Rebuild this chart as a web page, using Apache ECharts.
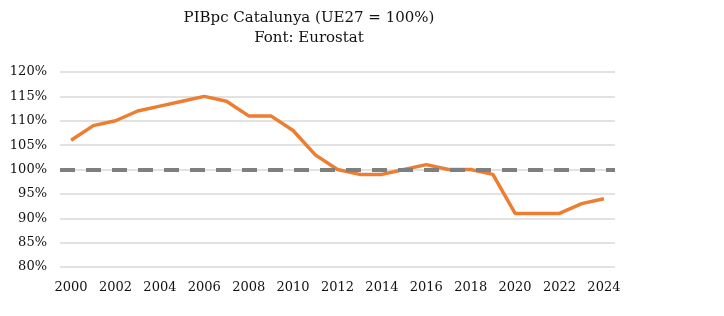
<!DOCTYPE html>
<html><head><meta charset="utf-8">
<script src="https://cdn.jsdelivr.net/npm/echarts@6/dist/echarts.min.js"></script>
<style>html,body{margin:0;padding:0;background:#fff}#c{width:724px;height:316px}</style>
</head><body><div id="c"></div>
<script>
const years = ['2000','2001','2002','2003','2004','2005','2006','2007','2008','2009','2010','2011','2012','2013','2014','2015','2016','2017','2018','2019','2020','2021','2022','2023','2024'];
const pibpc = [106,109,110,112,113,114,115,114,111,111,108,103,100,99,99,100,101,100,100,99,91,91,91,93,94];
const reference = 100;
const yTicks = [80,85,90,95,100,105,110,115,120];
const titleText = 'PIBpc Catalunya (UE27 = 100%)\nFont: Eurostat';

const font = '"DejaVu Serif", "Liberation Serif", serif';
const chart = echarts.init(document.getElementById('c'));
chart.setOption({
  animation: false,
  title: {text: titleText, left: 304, top: 3, textAlign: 'center',
    textStyle: {fontFamily: font, fontSize: 15, fontWeight: 'normal', color: '#111', lineHeight: 20}},
  grid: {left: 60, right: 109, top: 72, bottom: 49},
  xAxis: {type: 'category', data: years, boundaryGap: true,
    axisLine: {show: false}, axisTick: {show: false},
    axisLabel: {interval: 1, fontFamily: font, fontSize: 13, color: '#111', margin: 14}},
  yAxis: {type: 'value', min: yTicks[0], max: yTicks[yTicks.length-1], interval: 5,
    axisLine: {show: false}, axisTick: {show: false},
    splitLine: {lineStyle: {color: '#d9d9d9', width: 1.5}},
    axisLabel: {formatter: '{value}%', fontFamily: font, fontSize: 13, color: '#111', margin: 13}},
  series: [{
    type: 'line', data: pibpc, symbol: 'none',
    lineStyle: {color: '#ED7D31', width: 3.5}, z: 3
  }, {
    type: 'line', data: [], z: 5,
    markLine: {silent: true, symbol: 'none', label: {show: false},
      lineStyle: {color: '#7f7f7f', width: 4, type: [15, 11]},
      data: [{yAxis: reference}]}
  }]
});
</script></body></html>
